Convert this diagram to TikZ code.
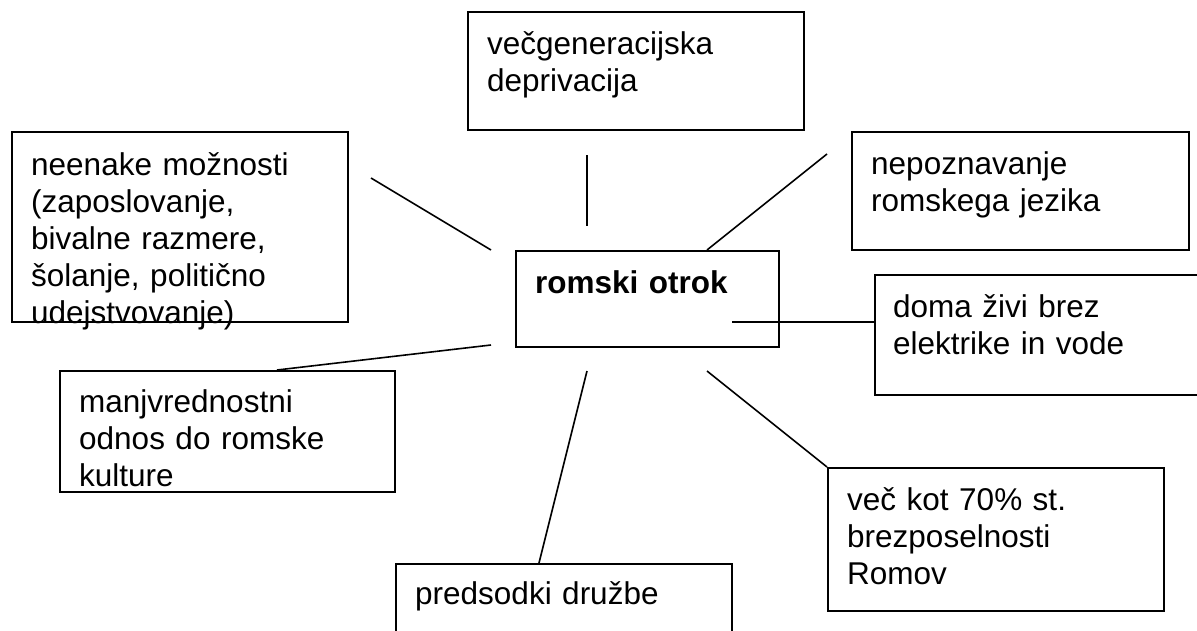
\documentclass[tikz,border=0pt]{standalone}
\usepackage{fontspec}
\setmainfont{Liberation Sans}
\usepackage{tikz}

\tikzset{
  box/.style={draw, line width=1.6pt, rectangle, inner sep=0pt, anchor=north west},
  lbl/.style={inner sep=0pt, anchor=base west, text width=330pt, align=left,
    font=\fontsize{31.5}{37}\selectfont},
  link/.style={line width=1.6pt}
}

\begin{document}
\begin{tikzpicture}[x=1pt,y=-1pt]
  \useasboundingbox (0,0) rectangle (1197,630);
  \node[box, minimum width=263pt, minimum height=96pt] (mid) at (515,250) {};
  \node[box, minimum width=336pt, minimum height=118pt] (gen) at (467,11) {};
  \node[box, minimum width=336pt, minimum height=190pt] (opp) at (11,131) {};
  \node[box, minimum width=337pt, minimum height=118pt] (lang) at (851,131) {};
  \node[box, minimum width=336pt, minimum height=120pt] (home) at (874,274) {};
  \node[box, minimum width=335pt, minimum height=121pt] (cult) at (59,370) {};
  \node[box, minimum width=336pt, minimum height=143pt] (jobs) at (827,467) {};
  \node[box, minimum width=336pt, minimum height=118pt] (pred) at (395,563) {};
  % texts
  \node[lbl, font=\fontsize{31.5}{37}\selectfont\bfseries] (midT) at ([shift={(20,43)}]mid.north west) {romski otrok};
  \node[lbl] (genT) at ([shift={(20,43)}]gen.north west) {večgeneracijska\\deprivacija};
  \node[lbl] (oppT) at ([shift={(20,44)}]opp.north west) {neenake možnosti\\(zaposlovanje,\\bivalne razmere,\\šolanje, politično\\udejstvovanje)};
  \node[lbl] (langT) at ([shift={(20,43)}]lang.north west) {nepoznavanje\\romskega jezika};
  \node[lbl] (homeT) at ([shift={(19,43)}]home.north west) {doma živi brez\\elektrike in vode};
  \node[lbl] (cultT) at ([shift={(20,42)}]cult.north west) {manjvrednostni\\odnos do romske\\kulture};
  \node[lbl] (jobsT) at ([shift={(20,43)}]jobs.north west) {več kot 70\% st.\\brezposelnosti\\Romov};
  \node[lbl] (predT) at ([shift={(20,41)}]pred.north west) {predsodki družbe};
  % free ends of the spokes
  \coordinate (oppA) at (371,178);
  \coordinate (oppB) at (491,250);
  \coordinate (genA) at (587,155);
  \coordinate (genB) at (587,226);
  \coordinate (langA) at (827,154);
  \coordinate (homeA) at (732,322);
  \coordinate (jobsA) at (707,371);
  \coordinate (predA) at (587,371);
  \coordinate (cultA) at (491,345);
  % Draw the spokes
  \draw[link] (oppA) -- (oppB);
  \draw[link] (genA) -- (genB);
  \draw[link] (langA) -- ([shift={(192,0)}]mid.north west);
  \draw[link] (homeA) -- ([shift={(0,48)}]home.north west);
  \draw[link] (jobsA) -- (jobs.north west);
  \draw[link] (predA) -- ([shift={(144,0)}]pred.north west);
  \draw[link] (cultA) -- ([shift={(218,0)}]cult.north west);
\end{tikzpicture}
\end{document}
